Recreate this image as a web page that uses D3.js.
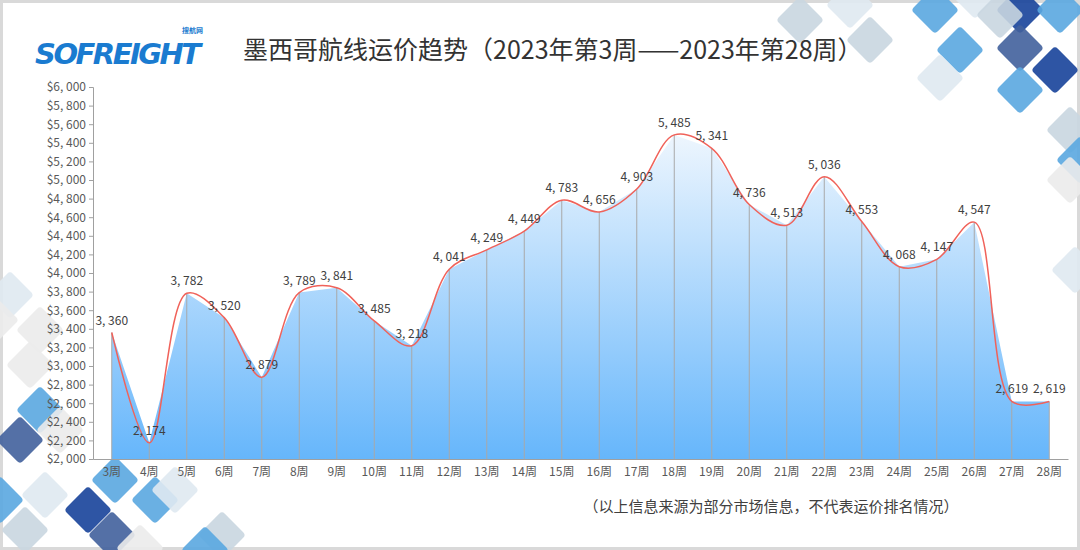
<!DOCTYPE html>
<html><head><meta charset="utf-8">
<script src="https://cdn.jsdelivr.net/npm/d3@7"></script>
<style>body{margin:0;background:#fff}svg{display:block}</style></head>
<body><svg id="c" width="1080" height="550"></svg>
<script>
const categories=["3周","4周","5周","6周","7周","8周","9周","10周","11周","12周","13周","14周","15周","16周","17周","18周","19周","20周","21周","22周","23周","24周","25周","26周","27周","28周"];
const values=[3360,2174,3782,3520,2879,3789,3841,3485,3218,4041,4249,4449,4783,4656,4903,5485,5341,4736,4513,5036,4553,4068,4147,4547,2619,2619];
const yTicks=d3.range(2000,6001,200);
const title="墨西哥航线运价趋势（2023年第3周——2023年第28周）";
const note="（以上信息来源为部分市场信息，不代表运价排名情况）";

const svg=d3.select("#c");
const F="'Noto Sans CJK SC','Noto Sans',sans-serif";
svg.append("rect").attr("x",1.5).attr("y",1.5).attr("width",1077).attr("height",547).attr("fill","#fff").attr("stroke","#d9d9d9").attr("stroke-width",3);

const dec=[[800,20,"#c9d6e0"],[850,5,"#dfe9f1"],[870,40,"#c9d6e0"],[935,10,"#5aa7e0"],[975,-5,"#dfe9f1"],[1020,10,"#17439a"],[960,50,"#5aa7e0"],[1020,48,"#41609c"],[1060,10,"#5aa7e0"],[940,78,"#dfe9f1"],[1000,15,"#c9d6e0"],[1055,70,"#17439a"],[1020,90,"#5aa7e0"],[1070,130,"#c9d6e0"],[1080,160,"#5aa7e0"],[1070,180,"#ebebeb"],[1075,270,"#dfe9f1"],
[10,295,"#dfe9f1"],[-5,320,"#ebebeb"],[40,330,"#ebebeb"],[30,365,"#ebebeb"],[40,410,"#5aa7e0"],[20,440,"#41609c"],[60,430,"#ebebeb"],[0,500,"#5aa7e0"],[45,495,"#dfe9f1"],[25,530,"#c9d6e0"],[115,480,"#5aa7e0"],[88,510,"#17439a"],[112,535,"#41609c"],[155,500,"#5aa7e0"],[175,490,"#dfe9f1"],[140,548,"#ebebeb"],[222,535,"#c9d6e0"],[205,550,"#5aa7e0"]];
dec.forEach(([x,y,c])=>svg.append("rect").attr("x",-17).attr("y",-17).attr("width",34).attr("height",34).attr("rx",4).attr("fill",c).attr("opacity",0.9).attr("transform",`translate(${x},${y}) rotate(45)`));

const lg=svg.append("g");
lg.append("text").attr("x",35).attr("y",64).attr("font-family","'DejaVu Sans',sans-serif").attr("font-weight","bold").attr("font-style","italic").attr("font-size",29).attr("fill","#1a7bd0").attr("letter-spacing",-2.5).text("SOFREIGHT");
lg.append("text").attr("x",182).attr("y",33).attr("font-family",F).attr("font-size",7).attr("fill","#1a7bd0").attr("font-weight","bold").text("搜航网");
svg.append("text").attr("x",243).attr("y",59).attr("font-family",F).attr("font-size",25).attr("fill","#333").text(title);

const x=d3.scaleBand().domain(categories).range([93,1068]);
const y=d3.scaleLinear().domain([2000,6000]).range([459,87]);
const cx=d=>x(d)+x.bandwidth()/2;
const pts=categories.map((c,i)=>[cx(c),y(values[i])]);

const defs=svg.append("defs");
const gr=defs.append("linearGradient").attr("id","g").attr("x1",0).attr("x2",0).attr("gradientUnits","userSpaceOnUse").attr("y1",y(5500)).attr("y2",459);
gr.append("stop").attr("offset",0).attr("stop-color","#eef6fe");
gr.append("stop").attr("offset",1).attr("stop-color","#66b6fb");
svg.append("path").attr("d",d3.area().x(d=>d[0]).y0(459).y1(d=>d[1])(pts)).attr("fill","url(#g)");
pts.forEach(p=>svg.append("line").attr("x1",p[0]).attr("x2",p[0]).attr("y1",p[1]).attr("y2",459).attr("stroke","#a8a8a8").attr("stroke-width",1));
svg.append("path").attr("d",d3.line().curve(d3.curveCatmullRom.alpha(0.5))(pts)).attr("fill","none").attr("stroke","#f0625a").attr("stroke-width",1.5);

const fmt=v=>d3.format(",")(v).replace(",",", ");
pts.forEach((p,i)=>svg.append("text").attr("x",p[0]).attr("y",p[1]-8).attr("text-anchor","middle").attr("font-family",F).attr("font-size",12).attr("fill","#404040").text(fmt(values[i])));

const ya=svg.append("g").attr("transform","translate(93,0)").call(d3.axisLeft(y).tickValues(yTicks).tickSize(4).tickFormat(v=>"$"+fmt(v)));
ya.selectAll("text").attr("font-family",F).attr("font-size",12).attr("fill","#595959");
ya.selectAll("line,path").attr("stroke","#a0a0a0");
const xa=svg.append("g").attr("transform","translate(0,459)").call(d3.axisBottom(x).tickSize(0).tickPadding(8));
xa.selectAll("text").attr("font-family",F).attr("font-size",12).attr("fill","#595959");
xa.select("path").attr("stroke","#a0a0a0");
svg.append("text").attr("x",771).attr("y",512).attr("text-anchor","middle").attr("font-family",F).attr("font-size",15).attr("fill","#404040").text(note);
</script></body></html>
